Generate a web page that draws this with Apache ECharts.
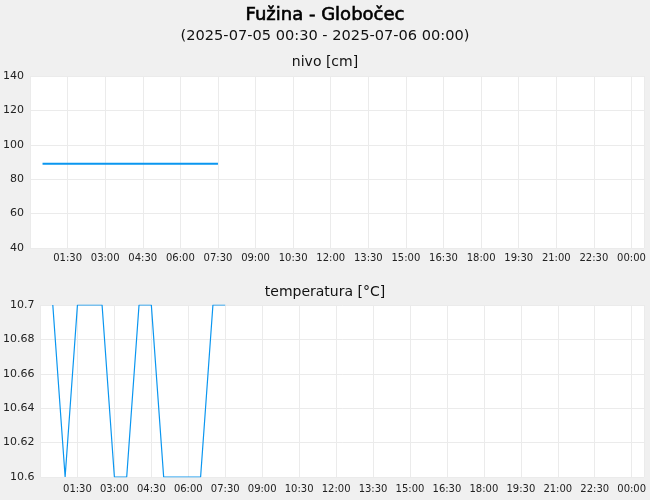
<!DOCTYPE html>
<html>
<head>
<meta charset="utf-8">
<script src="https://cdn.jsdelivr.net/npm/echarts@6/dist/echarts.min.js"></script>
<style>
  html, body { margin: 0; padding: 0; background: #f0f0f0; }
  #chart { width: 650px; height: 500px; }
</style>
</head>
<body>
<div id="chart"></div>
<script>
// 2025-07-05 00:30 - 2025-07-06 00:00, x in minutes from 2025-07-05 00:00
var levelTimes = ['00:30', '01:00', '01:30', '02:00', '02:30', '03:00', '03:30', '04:00',
    '04:30', '05:00', '05:30', '06:00', '06:30', '07:00', '07:30'];
var levelValues = [89, 89, 89, 89, 89, 89, 89, 89, 89, 89, 89, 89, 89, 89, 89];

var tempTimes = ['00:30', '01:00', '01:30', '02:00', '02:30', '03:00', '03:30', '04:00',
    '04:30', '05:00', '05:30', '06:00', '06:30', '07:00', '07:30'];
var tempValues = [10.7, 10.6, 10.7, 10.7, 10.7, 10.6, 10.6, 10.7,
    10.7, 10.6, 10.6, 10.6, 10.6, 10.7, 10.7];

var FONT = 'DejaVu Sans';
var LINE_COLOR = '#0a96f0';

function toMinutes(t) {
    var p = t.split(':');
    return parseInt(p[0], 10) * 60 + parseInt(p[1], 10);
}

function pairs(times, values) {
    return times.map(function (t, i) {
        return [toMinutes(t), values[i]];
    });
}

function timeLabel(v) {
    var m = Math.round(v) % 1440;
    var h = Math.floor(m / 60), mm = m % 60;
    return (h < 10 ? '0' : '') + h + ':' + (mm < 10 ? '0' : '') + mm;
}

function xAxis(gridIndex, margin) {
    return {
        type: 'value',
        gridIndex: gridIndex,
        min: 0,
        max: 1470,
        interval: 90,
        axisLine: { show: false },
        axisTick: { show: false },
        axisLabel: {
            showMinLabel: false,
            showMaxLabel: false,
            color: '#222',
            fontFamily: FONT,
            fontSize: 10,
            margin: margin,
            formatter: timeLabel
        },
        splitLine: { lineStyle: { color: '#ebebeb', width: 1 } }
    };
}

function yAxis(gridIndex, min, max, interval) {
    return {
        type: 'value',
        gridIndex: gridIndex,
        min: min,
        max: max,
        interval: interval,
        axisLine: { show: false },
        axisTick: { show: false },
        axisLabel: {
            color: '#222',
            fontFamily: FONT,
            fontSize: 11,
            margin: 6
        },
        splitLine: { lineStyle: { color: '#ebebeb', width: 1 } }
    };
}

var chart = echarts.init(document.getElementById('chart'));

chart.setOption({
    backgroundColor: '#f0f0f0',
    animation: false,
    title: [
        {
            text: 'Fužina - Globočec',
            left: 'center', top: 1,
            textStyle: {
                fontFamily: FONT, fontSize: 18, fontWeight: 'normal', color: '#000',
                textBorderColor: '#000', textBorderWidth: 0.6
            }
        },
        {
            text: '(2025-07-05 00:30 - 2025-07-06 00:00)',
            left: 'center', top: 24,
            textStyle: { fontFamily: FONT, fontSize: 14.6, fontWeight: 'normal', color: '#111' }
        },
        {
            text: 'nivo [cm]',
            left: 'center', top: 50,
            textStyle: { fontFamily: FONT, fontSize: 14, fontWeight: 'normal', color: '#111' }
        },
        {
            text: 'temperatura [°C]',
            left: 'center', top: 280,
            textStyle: { fontFamily: FONT, fontSize: 14, fontWeight: 'normal', color: '#111' }
        }
    ],
    grid: [
        { left: 30, right: 6, top: 76, height: 172, show: true, backgroundColor: '#fff', borderWidth: 0 },
        { left: 40, right: 6, top: 305, height: 172, show: true, backgroundColor: '#fff', borderWidth: 0 }
    ],
    xAxis: [xAxis(0, 5), xAxis(1, 7)],
    yAxis: [yAxis(0, 40, 140, 20), yAxis(1, 10.6, 10.7, 0.02)],
    series: [
        {
            type: 'line',
            xAxisIndex: 0, yAxisIndex: 0,
            data: pairs(levelTimes, levelValues),
            showSymbol: false,
            lineStyle: { color: LINE_COLOR, width: 2 },
            itemStyle: { color: LINE_COLOR }
        },
        {
            type: 'line',
            xAxisIndex: 1, yAxisIndex: 1,
            data: pairs(tempTimes, tempValues),
            showSymbol: false,
            lineStyle: { color: LINE_COLOR, width: 1.2 },
            itemStyle: { color: LINE_COLOR }
        }
    ]
});
</script>
</body>
</html>
